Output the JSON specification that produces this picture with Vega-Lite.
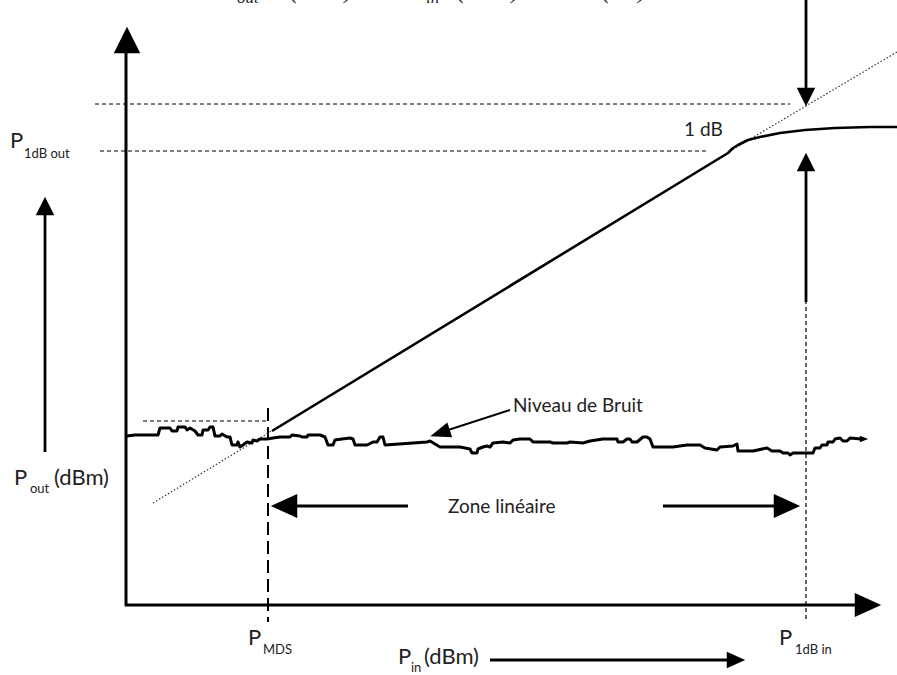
{
  "$schema": "https://vega.github.io/schema/vega-lite/v6.json",
  "width": 897,
  "height": 675,
  "padding": 0,
  "autosize": {"type": "none"},
  "background": "white",
  "config": {"view": {"stroke": null}},
  "datasets": {
    "axes": [
      {"id": "yaxis", "x": 126, "y": 606},
      {"id": "yaxis", "x": 126, "y": 50},
      {"id": "xaxis", "x": 125, "y": 605},
      {"id": "xaxis", "x": 860, "y": 605}
    ],
    "shafts": [
      {"id": "pout", "x": 45, "y": 452},
      {"id": "pout", "x": 45, "y": 212},
      {"id": "compTop", "x": 806, "y": 0},
      {"id": "compTop", "x": 806, "y": 92},
      {"id": "compBot", "x": 806, "y": 302},
      {"id": "compBot", "x": 806, "y": 166},
      {"id": "zoneL", "x": 296, "y": 506},
      {"id": "zoneL", "x": 408, "y": 506},
      {"id": "zoneR", "x": 663, "y": 506},
      {"id": "zoneR", "x": 778, "y": 506},
      {"id": "pin", "x": 490, "y": 660},
      {"id": "pin", "x": 730, "y": 660}
    ],
    "pointer": [
      {"id": "bruit", "x": 510, "y": 410},
      {"id": "bruit", "x": 442, "y": 432}
    ],
    "gain": [
      {"x": 272, "y": 431}, {"x": 728, "y": 153}, {"x": 733, "y": 148}, {"x": 738, "y": 145},
      {"x": 748, "y": 140}, {"x": 760, "y": 137}, {"x": 780, "y": 133}, {"x": 805, "y": 130},
      {"x": 835, "y": 128}, {"x": 870, "y": 127}, {"x": 897, "y": 127}
    ],
    "ideal": [
      {"id": "low", "x": 153, "y": 503}, {"id": "low", "x": 273, "y": 430},
      {"id": "high", "x": 730, "y": 151}, {"id": "high", "x": 897, "y": 52}
    ],
    "noise": [
      {"x": 127, "y": 436}, {"x": 135, "y": 435}, {"x": 158, "y": 435}, {"x": 160, "y": 428},
      {"x": 170, "y": 428}, {"x": 172, "y": 431}, {"x": 177, "y": 431}, {"x": 178, "y": 427},
      {"x": 185, "y": 427}, {"x": 187, "y": 430}, {"x": 190, "y": 428}, {"x": 195, "y": 431},
      {"x": 198, "y": 435}, {"x": 202, "y": 435}, {"x": 203, "y": 430}, {"x": 208, "y": 430},
      {"x": 210, "y": 427}, {"x": 213, "y": 427}, {"x": 215, "y": 436}, {"x": 220, "y": 436},
      {"x": 222, "y": 434}, {"x": 227, "y": 437}, {"x": 230, "y": 437}, {"x": 232, "y": 445},
      {"x": 237, "y": 445}, {"x": 238, "y": 442}, {"x": 240, "y": 447}, {"x": 243, "y": 445},
      {"x": 247, "y": 442}, {"x": 252, "y": 443}, {"x": 253, "y": 440}, {"x": 257, "y": 441},
      {"x": 260, "y": 439}, {"x": 267, "y": 439}, {"x": 273, "y": 438}, {"x": 280, "y": 437},
      {"x": 290, "y": 437}, {"x": 292, "y": 435}, {"x": 300, "y": 436}, {"x": 302, "y": 437},
      {"x": 307, "y": 437}, {"x": 308, "y": 435}, {"x": 320, "y": 435}, {"x": 325, "y": 437},
      {"x": 328, "y": 445}, {"x": 333, "y": 445}, {"x": 335, "y": 440}, {"x": 342, "y": 439},
      {"x": 350, "y": 438}, {"x": 353, "y": 439}, {"x": 355, "y": 445}, {"x": 367, "y": 445},
      {"x": 373, "y": 442}, {"x": 377, "y": 442}, {"x": 380, "y": 437}, {"x": 383, "y": 437},
      {"x": 385, "y": 445}, {"x": 427, "y": 442}, {"x": 430, "y": 441}, {"x": 440, "y": 447},
      {"x": 460, "y": 447}, {"x": 470, "y": 449}, {"x": 472, "y": 453}, {"x": 477, "y": 453},
      {"x": 478, "y": 449}, {"x": 483, "y": 447}, {"x": 487, "y": 446}, {"x": 490, "y": 447},
      {"x": 493, "y": 443}, {"x": 503, "y": 442}, {"x": 510, "y": 443}, {"x": 513, "y": 440},
      {"x": 520, "y": 439}, {"x": 530, "y": 439}, {"x": 533, "y": 442}, {"x": 550, "y": 442},
      {"x": 553, "y": 443}, {"x": 567, "y": 443}, {"x": 570, "y": 442}, {"x": 583, "y": 443},
      {"x": 590, "y": 441}, {"x": 603, "y": 439}, {"x": 617, "y": 439}, {"x": 618, "y": 442},
      {"x": 623, "y": 442}, {"x": 627, "y": 439}, {"x": 630, "y": 439}, {"x": 632, "y": 442},
      {"x": 637, "y": 442}, {"x": 643, "y": 437}, {"x": 647, "y": 437}, {"x": 650, "y": 439},
      {"x": 653, "y": 447}, {"x": 673, "y": 447}, {"x": 687, "y": 445}, {"x": 700, "y": 445},
      {"x": 705, "y": 448}, {"x": 717, "y": 450}, {"x": 720, "y": 447}, {"x": 733, "y": 446},
      {"x": 737, "y": 444}, {"x": 738, "y": 451}, {"x": 753, "y": 451}, {"x": 767, "y": 448},
      {"x": 772, "y": 451}, {"x": 780, "y": 451}, {"x": 783, "y": 453}, {"x": 788, "y": 453},
      {"x": 790, "y": 455}, {"x": 793, "y": 453}, {"x": 813, "y": 453}, {"x": 815, "y": 448},
      {"x": 820, "y": 448}, {"x": 822, "y": 445}, {"x": 827, "y": 445}, {"x": 828, "y": 442},
      {"x": 833, "y": 442}, {"x": 835, "y": 439}, {"x": 840, "y": 438}, {"x": 843, "y": 441},
      {"x": 847, "y": 441}, {"x": 850, "y": 438}, {"x": 861, "y": 439}
    ],
    "refs": [
      {"id": "top", "x": 95, "y": 104}, {"id": "top", "x": 790, "y": 104},
      {"id": "p1db", "x": 100, "y": 151}, {"id": "p1db", "x": 708, "y": 151},
      {"id": "mds", "x": 143, "y": 421}, {"id": "mds", "x": 268, "y": 421}
    ],
    "mdsline": [
      {"x": 268, "y": 408}, {"x": 268, "y": 622}
    ],
    "p1dbin": [
      {"x": 806, "y": 300}, {"x": 806, "y": 622}
    ],
    "bigHeads": [
      {"dir": "up", "x": 127, "y": 40},
      {"dir": "right", "x": 868, "y": 605},
      {"dir": "left", "x": 284, "y": 506},
      {"dir": "right", "x": 787, "y": 506}
    ],
    "midHeads": [
      {"dir": "down", "x": 806, "y": 97},
      {"dir": "up", "x": 806, "y": 162},
      {"dir": "up", "x": 45, "y": 206},
      {"dir": "right", "x": 736, "y": 660}
    ],
    "smallHeads": [
      {"dir": "right", "x": 864, "y": 439}
    ],
    "bigText": [
      {"label": "P", "x": 10, "y": 148},
      {"label": "P", "x": 14, "y": 485},
      {"label": "(dBm)", "x": 54, "y": 485},
      {"label": "P", "x": 248, "y": 645},
      {"label": "P", "x": 398, "y": 664},
      {"label": "(dBm)", "x": 424, "y": 664},
      {"label": "P", "x": 779, "y": 645}
    ],
    "subText": [
      {"label": "1dB out", "x": 24, "y": 158},
      {"label": "out", "x": 30, "y": 493},
      {"label": "MDS", "x": 263, "y": 654},
      {"label": "in", "x": 411, "y": 672},
      {"label": "1dB in", "x": 795, "y": 654}
    ],
    "bodyText": [
      {"label": "1 dB", "x": 684, "y": 136},
      {"label": "Niveau de Bruit", "x": 513, "y": 412},
      {"label": "Zone linéaire", "x": 448, "y": 513}
    ],
    "formula": [
      {"label": "P", "x": 219, "y": -2},
      {"label": "(dBm) =", "x": 290, "y": -2},
      {"label": "P", "x": 410, "y": -2},
      {"label": "(dBm) +", "x": 457, "y": -2},
      {"label": "G", "x": 580, "y": -2},
      {"label": "(dB)", "x": 602, "y": -2}
    ],
    "formulaSub": [
      {"label": "out", "x": 237, "y": 3},
      {"label": "in", "x": 426, "y": 3}
    ]
  },
  "encoding": {
    "x": {"field": "x", "type": "quantitative", "scale": {"domain": [0, 897], "nice": false, "zero": false}, "axis": null},
    "y": {"field": "y", "type": "quantitative", "scale": {"domain": [675, 0], "nice": false, "zero": false}, "axis": null}
  },
  "layer": [
    {
      "data": {"name": "refs"},
      "mark": {"type": "line", "color": "black", "strokeWidth": 1, "strokeDash": [4, 3]},
      "encoding": {"detail": {"field": "id"}, "order": {"value": null}}
    },
    {
      "data": {"name": "mdsline"},
      "mark": {"type": "line", "color": "black", "strokeWidth": 2, "strokeDash": [13, 6]},
      "encoding": {"order": {"value": null}}
    },
    {
      "data": {"name": "p1dbin"},
      "mark": {"type": "line", "color": "black", "strokeWidth": 1.2, "strokeDash": [4, 3]},
      "encoding": {"order": {"value": null}}
    },
    {
      "data": {"name": "ideal"},
      "mark": {"type": "line", "color": "#333", "strokeWidth": 1.2, "strokeDash": [1.5, 2]},
      "encoding": {"detail": {"field": "id"}, "order": {"value": null}}
    },
    {
      "data": {"name": "axes"},
      "mark": {"type": "line", "color": "black", "strokeWidth": 3},
      "encoding": {"detail": {"field": "id"}, "order": {"value": null}}
    },
    {
      "data": {"name": "shafts"},
      "mark": {"type": "line", "color": "black", "strokeWidth": 2.8},
      "encoding": {"detail": {"field": "id"}, "order": {"value": null}}
    },
    {
      "data": {"name": "pointer"},
      "mark": {"type": "line", "color": "black", "strokeWidth": 2},
      "encoding": {"detail": {"field": "id"}, "order": {"value": null}}
    },
    {
      "data": {"name": "gain"},
      "mark": {"type": "line", "color": "black", "strokeWidth": 2.6, "strokeJoin": "round"},
      "encoding": {"order": {"value": null}}
    },
    {
      "data": {"name": "noise"},
      "mark": {"type": "line", "color": "black", "strokeWidth": 3, "strokeJoin": "round"},
      "encoding": {"order": {"value": null}}
    },
    {
      "data": {"name": "bigHeads"},
      "mark": {"type": "point", "filled": true, "color": "black", "opacity": 1, "size": 700},
      "encoding": {
        "shape": {"field": "dir", "type": "nominal", "legend": null,
          "scale": {"domain": ["up", "down", "left", "right"],
                    "range": ["M0,-1L1,1L-1,1Z", "M0,1L1,-1L-1,-1Z", "M-1,0L1,-0.9L1,0.9Z", "M1,0L-1,-0.9L-1,0.9Z"]}}
      }
    },
    {
      "data": {"name": "midHeads"},
      "mark": {"type": "point", "filled": true, "color": "black", "opacity": 1, "size": 340},
      "encoding": {
        "shape": {"field": "dir", "type": "nominal", "legend": null,
          "scale": {"domain": ["up", "down", "left", "right"],
                    "range": ["M0,-1L1,1L-1,1Z", "M0,1L1,-1L-1,-1Z", "M-1,0L1,-0.8L1,0.8Z", "M1,0L-1,-0.75L-1,0.75Z"]}}
      }
    },
    {
      "data": {"name": "smallHeads"},
      "mark": {"type": "point", "filled": true, "color": "black", "opacity": 1, "size": 70, "shape": "M1,0L-1,-0.8L-1,0.8Z"}
    },
    {
      "data": {"values": [{"x": 440, "y": 433}]},
      "mark": {"type": "point", "filled": true, "color": "black", "opacity": 1, "size": 420, "angle": 162, "shape": "M1,0L-1,-0.75L-1,0.75Z"}
    },
    {
      "data": {"name": "bigText"},
      "mark": {"type": "text", "align": "left", "baseline": "alphabetic", "font": "Lato", "fontSize": 22, "color": "#222"},
      "encoding": {"text": {"field": "label"}}
    },
    {
      "data": {"name": "subText"},
      "mark": {"type": "text", "align": "left", "baseline": "alphabetic", "font": "Lato", "fontSize": 13, "color": "#222"},
      "encoding": {"text": {"field": "label"}}
    },
    {
      "data": {"name": "bodyText"},
      "mark": {"type": "text", "align": "left", "baseline": "alphabetic", "font": "Lato", "fontSize": 19, "color": "#222"},
      "encoding": {"text": {"field": "label"}}
    },
    {
      "data": {"name": "formula"},
      "mark": {"type": "text", "align": "left", "baseline": "alphabetic", "font": "Liberation Serif", "fontStyle": "italic", "fontSize": 25, "color": "#222"},
      "encoding": {"text": {"field": "label"}}
    },
    {
      "data": {"name": "formulaSub"},
      "mark": {"type": "text", "align": "left", "baseline": "alphabetic", "font": "Liberation Serif", "fontStyle": "italic", "fontSize": 17, "color": "#222"},
      "encoding": {"text": {"field": "label"}}
    }
  ]
}
